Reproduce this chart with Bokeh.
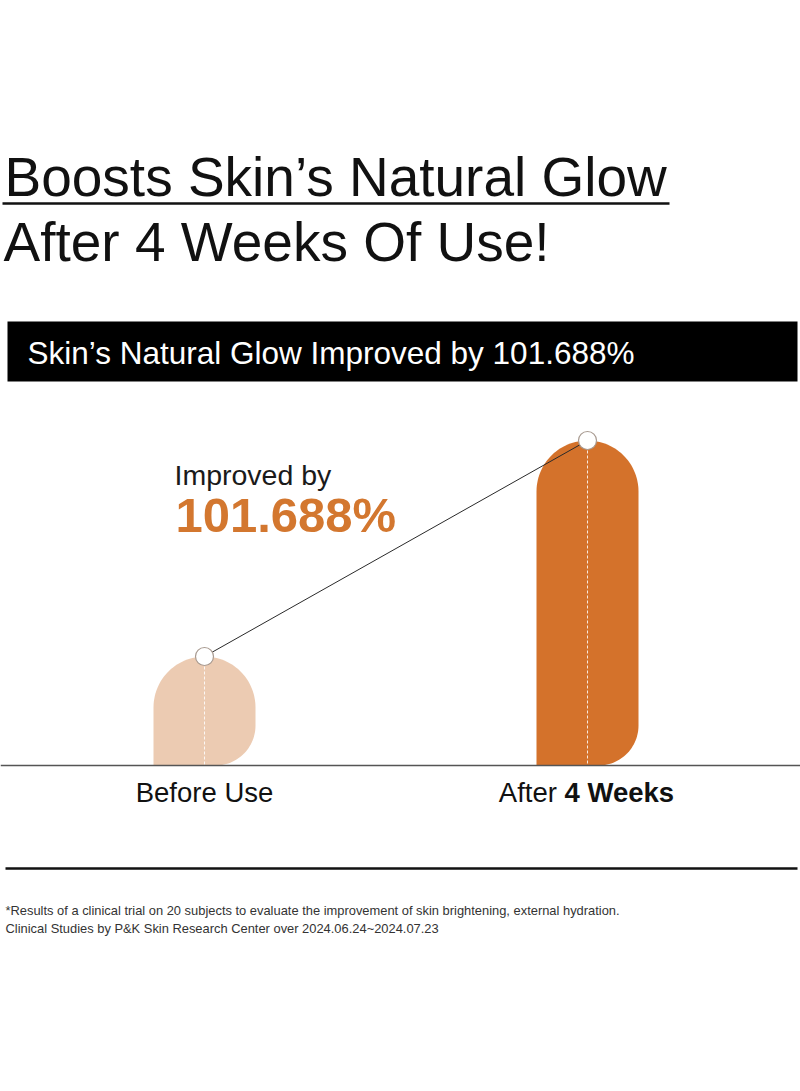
import numpy as np
from bokeh.plotting import figure
from bokeh.models import Range1d
from bokeh.core.properties import value
from bokeh.embed import file_html
from bokeh.resources import INLINE

# ---- data ----
categories = ["Before Use", "After 4 Weeks"]
bar_heights = [109, 325]          # relative bar heights
improvement_pct = "101.688%"
title_lines = ["Boosts Skin\u2019s Natural Glow", "After 4 Weeks Of Use!"]
banner_text = "Skin\u2019s Natural Glow Improved by 101.688%"
footnotes = [
    "*Results of a clinical trial on 20 subjects to evaluate the improvement of skin brightening, external hydration.",
    "Clinical Studies by P&K Skin Research Center over 2024.06.24~2024.07.23",
]

# ---- style ----
FONT = value("Liberation Sans")
bar_x = [204, 587]
bar_w = 102
bar_colors = ["#ECCBB2", "#D4722B"]
rb = 40  # bottom-right corner radius

W, H = 800, 1091
base_py = 765
p = figure(width=W, height=H, x_range=Range1d(0, W), y_range=Range1d(base_py - H, base_py),
           output_backend="svg", toolbar_location=None, min_border=0)
p.axis.visible = False
p.grid.visible = False
p.outline_line_color = None
p.background_fill_color = "white"
p.border_fill_color = "white"

def Y(py):
    return base_py - py

def TY(baseline_py, fs):
    # compensate for renderer's baseline offset
    return Y(baseline_py - 0.38 * fs)

# title
p.text(x=[4], y=[TY(197, 55)], text=[title_lines[0]], text_font=FONT, text_font_size="55px",
       text_color="#111111", text_baseline="alphabetic")
p.segment(x0=[2], y0=[Y(203)], x1=[669], y1=[Y(203)], line_color="#111111", line_width=2.5)
p.text(x=[3], y=[TY(262, 55)], text=[title_lines[1]], text_font=FONT, text_font_size="55px",
       text_color="#111111", text_baseline="alphabetic")

# banner
p.quad(left=[7], right=[797], top=[Y(321)], bottom=[Y(381)], fill_color="black", line_color=None)
p.text(x=[27], y=[TY(364, 31.5)], text=[banner_text], text_font=FONT, text_font_size="31.5px",
       text_color="white", text_baseline="alphabetic")

# improvement annotation
p.text(x=[174], y=[TY(485, 28.5)], text=["Improved by"], text_font=FONT, text_font_size="28.5px",
       text_color="#1a1a1a", text_baseline="alphabetic")
p.text(x=[175], y=[TY(533, 49)], text=[improvement_pct], text_font=FONT, text_font_size="49px",
       text_font_style="bold", text_color="#D3772F", text_baseline="alphabetic")

# bars
xs, ys = [], []
for cx, h in zip(bar_x, bar_heights):
    r = bar_w / 2
    l, rt = cx - r, cx + r
    t1 = np.linspace(np.pi, 0, 60)
    t2 = np.linspace(0, -np.pi / 2, 30)
    px = [l, l] + list(cx + r * np.cos(t1)) + [rt] + list(rt - rb + rb * np.cos(t2)) + [l]
    py = [0, h - r] + list(h - r + r * np.sin(t1)) + [rb] + list(rb + rb * np.sin(t2)) + [0]
    xs.append(px)
    ys.append(py)
p.patches(xs=xs, ys=ys, fill_color=bar_colors, line_color=None)

# dashed centre lines
p.segment(x0=bar_x, y0=bar_heights, x1=bar_x, y1=[0, 0], line_color="white",
          line_width=1, line_dash="3 2", line_alpha=0.85)

# connecting line and dots
p.line(x=bar_x, y=bar_heights, line_color="#2a2a2a", line_width=1)
p.scatter(x=bar_x, y=bar_heights, size=18, fill_color="white", line_color="#a89a90", line_width=1.2)

# baseline
p.segment(x0=[0], y0=[0], x1=[W], y1=[0], line_color="#555555", line_width=1.5)

# category labels
CFS = 27.5
p.text(x=[bar_x[0]], y=[TY(802, CFS)], text=[categories[0]], text_font=FONT, text_font_size=f"{CFS}px",
       text_color="#111111", text_align="center", text_baseline="alphabetic")
p.text(x=[564], y=[TY(802, CFS)], text=["After "], text_font=FONT, text_font_size=f"{CFS}px",
       text_color="#111111", text_align="right", text_baseline="alphabetic")
p.text(x=[564], y=[TY(802, CFS)], text=["4 Weeks"], text_font=FONT, text_font_size=f"{CFS}px",
       text_font_style="bold", text_color="#111111", text_align="left", text_baseline="alphabetic")

# bottom rule
p.segment(x0=[5], y0=[Y(868)], x1=[797], y1=[Y(868)], line_color="#111111", line_width=2.5)

# footnotes
FFS = 12.9
p.text(x=[5, 5], y=[TY(915, FFS), TY(933, FFS)], text=footnotes, text_font=FONT,
       text_font_size=f"{FFS}px", text_color="#333333", text_baseline="alphabetic")

open("out.html", "w").write(file_html(p, INLINE))
